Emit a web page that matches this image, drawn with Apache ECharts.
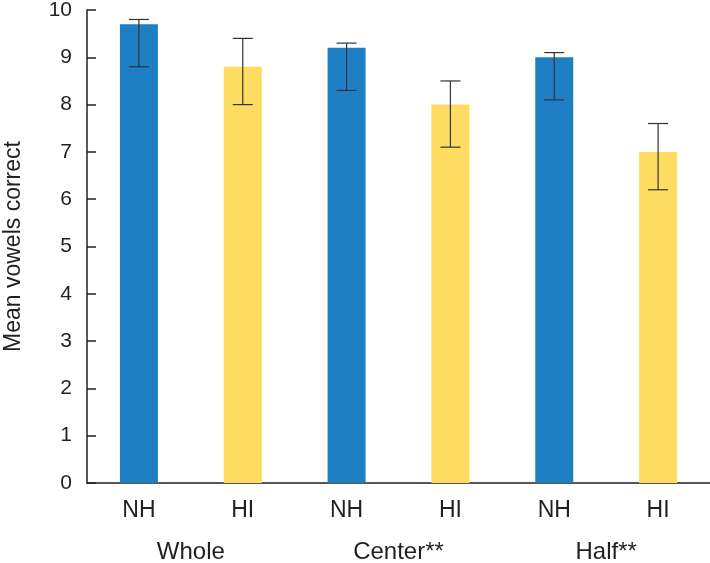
<!DOCTYPE html>
<html>
<head>
<meta charset="utf-8">
<script src="https://cdn.jsdelivr.net/npm/echarts@6/dist/echarts.min.js"></script>
<style>
html,body{margin:0;padding:0;background:#fff;}
#chart{width:710px;height:563px;}
</style>
</head>
<body>
<div id="chart"></div>
<script>
var barLabels = ["NH", "HI", "NH", "HI", "NH", "HI"];
var groupLabels = ["Whole", "Center**", "Half**"];
var meanValues = [9.7, 8.8, 9.2, 8.0, 9.0, 7.0];
var errLow = [8.8, 8.0, 8.3, 7.1, 8.1, 6.2];
var errHigh = [9.8, 9.4, 9.3, 8.5, 9.1, 7.6];
var yTicks = [0, 1, 2, 3, 4, 5, 6, 7, 8, 9, 10];
var yAxisTitle = "Mean vowels correct";

var BLUE = "#1f7fc4", YELLOW = "#fedc62", INK = "#231f20";
var FONT = "Liberation Sans";

var barData = meanValues.map(function (v, i) {
  return { value: v, itemStyle: { color: barLabels[i] === "NH" ? BLUE : YELLOW } };
});
var errData = meanValues.map(function (v, i) { return [i, errLow[i], errHigh[i]]; });

var chart = echarts.init(document.getElementById('chart'), null, { renderer: 'canvas' });
chart.setOption({
  animation: false,
  backgroundColor: '#fff',
  grid: { left: 87, right: 0, top: 10, bottom: 80, containLabel: false, outerBoundsMode: 'none' },
  xAxis: [
    {
      type: 'category', data: barLabels, position: 'bottom',
      axisLine: { lineStyle: { color: INK, width: 1.5 } },
      axisTick: { show: false },
      axisLabel: { color: INK, fontSize: 23, fontFamily: FONT, margin: 16 }
    },
    {
      type: 'category', data: groupLabels, position: 'bottom',
      axisLine: { show: false }, axisTick: { show: false },
      axisLabel: { color: INK, fontSize: 24, fontFamily: FONT, margin: 57 }
    }
  ],
  yAxis: {
    type: 'value', min: yTicks[0], max: yTicks[yTicks.length - 1], interval: 1,
    name: yAxisTitle, nameLocation: 'middle', nameRotate: 90, nameGap: 62,
    nameTextStyle: { color: INK, fontSize: 23, fontFamily: FONT },
    axisLine: { show: true, lineStyle: { color: INK, width: 1.5 } },
    axisTick: { show: true, inside: true, length: 9, lineStyle: { color: INK, width: 1.5 } },
    axisLabel: { color: INK, fontSize: 21, fontFamily: FONT, margin: 15 },
    splitLine: { show: false }
  },
  series: [
    { type: 'bar', xAxisIndex: 0, data: barData, barWidth: 38 },
    {
      type: 'custom', xAxisIndex: 0, data: errData, z: 10,
      renderItem: function (params, api) {
        var lo = api.coord([api.value(0), api.value(1)]);
        var hi = api.coord([api.value(0), api.value(2)]);
        var hw = 10;
        var style = { stroke: '#333', lineWidth: 1.2 };
        return {
          type: 'group',
          children: [
            { type: 'line', shape: { x1: hi[0], y1: hi[1], x2: lo[0], y2: lo[1] }, style: style },
            { type: 'line', shape: { x1: hi[0] - hw, y1: hi[1], x2: hi[0] + hw, y2: hi[1] }, style: style },
            { type: 'line', shape: { x1: lo[0] - hw, y1: lo[1], x2: lo[0] + hw, y2: lo[1] }, style: style }
          ]
        };
      }
    }
  ]
});
</script>
</body>
</html>
